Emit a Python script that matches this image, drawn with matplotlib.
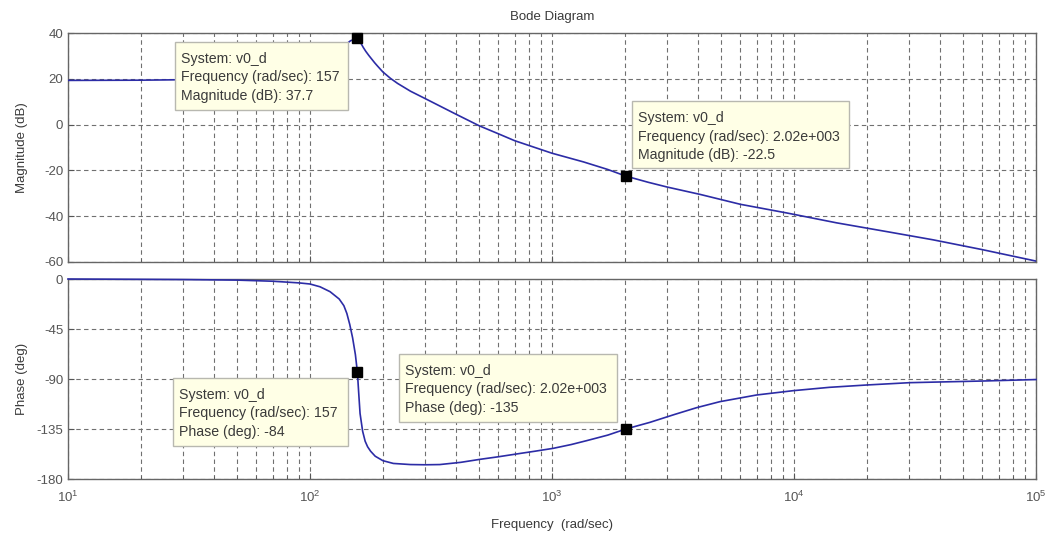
import numpy as np
import matplotlib.pyplot as plt
from matplotlib.patches import Rectangle

plt.rcParams['font.family'] = ['Liberation Sans', 'DejaVu Sans']
plt.rcParams['axes.unicode_minus'] = False

# magnitude
mag_freq = [10, 20, 30, 45, 60, 80, 100, 120, 135, 147, 157, 160, 163, 166, 170,
            175, 185, 190, 200, 215, 230, 260, 300, 400, 500, 600, 700, 850, 1000,
            1350, 1700, 2020, 2500, 3000, 4100, 6000, 9350, 15000, 25000, 37500,
            60000, 100000]
mag_db = [19.3, 19.4, 19.6, 20.1, 21.0, 22.7, 25.3, 29.3, 33.5, 36.6, 37.7, 36.6,
          35.2, 33.7, 32.0, 30.2, 27.0, 25.6, 23.0, 20.2, 18.0, 14.6, 11.3, 4.6,
          -0.5, -4.0, -7.0, -10.0, -12.5, -16.3, -19.6, -22.5, -25.2, -27.3,
          -30.5, -34.8, -38.6, -42.9, -47.0, -50.3, -54.6, -59.6]

# phase
ph_freq = [10, 20, 30, 50, 70, 90, 100, 110, 121, 132, 138, 142, 146, 150, 154,
           157, 159, 161, 165, 169, 173, 178, 186, 200, 221, 260, 300, 344, 420,
           504, 600, 738, 850, 1012, 1200, 1390, 1700, 2020, 2540, 3200, 3960,
           4940, 7000, 9930, 14000, 19950, 30100, 60500, 100000]
ph_deg = [0, -0.3, -0.5, -1.0, -2.0, -3.5, -4.5, -7, -11.4, -18, -24, -31, -41,
          -53, -68, -84, -103, -121, -137, -146, -151, -155, -159.5, -163.5,
          -166, -167, -167.2, -167, -165, -162.3, -160, -157, -155, -152.4, -149,
          -145.5, -140.5, -135, -129, -122, -115.8, -110.4, -104.4, -100.5,
          -97.5, -95.4, -93.3, -91.8, -90.5]

tip_freq = [157, 2020]
tip_mag = [37.7, -22.5]
tip_phase = [-84, -135]
tip_freq_txt = ['157', '2.02e+003']

mag_ticks = [-60, -40, -20, 0, 20, 40]
ph_ticks = [-180, -135, -90, -45, 0]

W, H = 1047, 536
fig = plt.figure(figsize=(W / 100, H / 100), dpi=100)

def px(x0, y0, x1, y1):
    # pixel box (top-left origin) -> figure fraction rect
    return [x0 / W, 1 - y1 / H, (x1 - x0) / W, (y1 - y0) / H]

ax1 = fig.add_axes(px(68, 33, 1036, 262))
ax2 = fig.add_axes(px(68, 279, 1036, 479), sharex=ax1)

line_c = '#2c2ca6'
grid_c = '#707070'
txt_c = '#3a3a3a'
tick_c = '#555555'

ax1.plot(mag_freq, mag_db, color=line_c, lw=1.2, zorder=3)
ax2.plot(ph_freq, ph_deg, color=line_c, lw=1.2, zorder=3, clip_on=False)
ax1.plot(tip_freq, tip_mag, 's', color='black', ms=7.5, zorder=4, clip_on=False)
ax2.plot(tip_freq, tip_phase, 's', color='black', ms=7.5, zorder=4, clip_on=False)

for ax, ticks in [(ax1, mag_ticks), (ax2, ph_ticks)]:
    ax.set_xscale('log')
    ax.set_xlim(10, 1e5)
    ax.set_ylim(ticks[0], ticks[-1])
    ax.set_yticks(ticks)
    ax.grid(True, which='both', axis='x', color=grid_c, lw=0.8, ls=(0, (4, 3)))
    ax.grid(True, which='major', axis='y', color=grid_c, lw=0.8, ls=(0, (4, 3)))
    ax.tick_params(which='both', direction='in', colors=tick_c, labelsize=9.5,
                   length=4)
    ax.tick_params(which='minor', length=2)
    ax.tick_params(axis='x', pad=8)
    for s in ax.spines.values():
        s.set_color('#666666')
        s.set_linewidth(1.0)

ax1.tick_params(labelbottom=False)
ax1.set_ylabel('Magnitude (dB)', color=txt_c, fontsize=9.5)
ax2.set_ylabel('Phase (deg)', color=txt_c, fontsize=9.5)
ax2.set_xlabel('Frequency  (rad/sec)', color=txt_c, fontsize=9.5, labelpad=10)
ax1.yaxis.set_label_coords(-0.041, 0.5)
ax2.yaxis.set_label_coords(-0.041, 0.5)
fig.text(552 / W, 1 - 17 / H, 'Bode Diagram', ha='center', va='center',
         color=txt_c, fontsize=9.5)

def tip(box, lines):
    x0, y0, x1, y1 = box
    fig.add_artist(Rectangle((x0 / W, 1 - y1 / H), (x1 - x0) / W, (y1 - y0) / H,
                             transform=fig.transFigure, fc='#ffffe6',
                             ec='#b8b8b0', lw=1.0, zorder=5))
    for i, s in enumerate(lines):
        fig.text((x0 + 6) / W, 1 - (y0 + 17 + 18.5 * i) / H, s, ha='left',
                 va='center', color=txt_c, fontsize=10.2, zorder=6)

tip((175, 42, 348, 110), ['System: v0_d',
                          'Frequency (rad/sec): ' + tip_freq_txt[0],
                          'Magnitude (dB): %.1f' % tip_mag[0]])
tip((632, 101, 849, 168), ['System: v0_d',
                           'Frequency (rad/sec): ' + tip_freq_txt[1],
                           'Magnitude (dB): %.1f' % tip_mag[1]])
tip((173, 378, 348, 446), ['System: v0_d',
                           'Frequency (rad/sec): ' + tip_freq_txt[0],
                           'Phase (deg): %d' % tip_phase[0]])
tip((399, 354, 617, 422), ['System: v0_d',
                           'Frequency (rad/sec): ' + tip_freq_txt[1],
                           'Phase (deg): %d' % tip_phase[1]])

fig.savefig('out.png', dpi=100)
